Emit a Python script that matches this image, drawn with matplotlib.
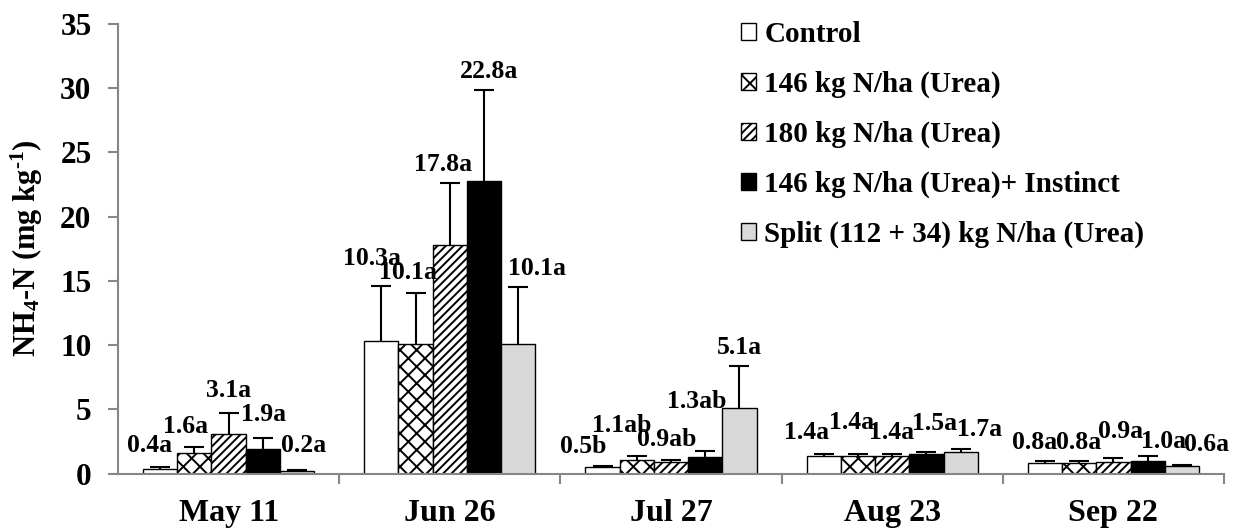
import numpy as np
import matplotlib
matplotlib.use('Agg')
import matplotlib.pyplot as plt

plt.rcParams['font.family'] = 'Liberation Serif'
plt.rcParams['font.weight'] = 'bold'
plt.rcParams['mathtext.fontset'] = 'custom'
plt.rcParams['mathtext.rm'] = 'Liberation Serif:bold'
plt.rcParams['mathtext.bf'] = 'Liberation Serif:bold'
plt.rcParams['mathtext.it'] = 'Liberation Serif:bold'
plt.rcParams['hatch.linewidth'] = 1.4

dates = ['May 11', 'Jun 26', 'Jul 27', 'Aug 23', 'Sep 22']
treatments = ['Control', '146 kg N/ha (Urea)', '180 kg N/ha (Urea)',
              '146 kg N/ha (Urea)+ Instinct', 'Split (112 + 34) kg N/ha (Urea)']

control = [0.4, 10.3, 0.5, 1.4, 0.8]
urea146 = [1.6, 10.1, 1.1, 1.4, 0.8]
urea180 = [3.1, 17.8, 0.9, 1.4, 0.9]
instinct = [1.9, 22.8, 1.3, 1.5, 1.0]
split = [0.2, 10.1, 5.1, 1.7, 0.6]

control_err = [0.15, 4.3, 0.1, 0.12, 0.15]
urea146_err = [0.45, 4.0, 0.25, 0.1, 0.15]
urea180_err = [1.6, 4.8, 0.15, 0.1, 0.3]
instinct_err = [0.9, 7.1, 0.5, 0.15, 0.4]
split_err = [0.05, 4.4, 3.3, 0.25, 0.05]

control_let = ['a', 'a', 'b', 'a', 'a']
urea146_let = ['a', 'a', 'ab', 'a', 'a']
urea180_let = ['a', 'a', 'ab', 'a', 'a']
instinct_let = ['a', 'a', 'ab', 'a', 'a']
split_let = ['a', 'a', 'a', 'a', 'a']

series = [control, urea146, urea180, instinct, split]
errors = [control_err, urea146_err, urea180_err, instinct_err, split_err]
letters = [control_let, urea146_let, urea180_let, instinct_let, split_let]

# styling
colors = ['white', 'white', 'white', 'black', '#d9d9d9']
hatches = [None, 'xx', '////', None, None]

# hand placed label offsets (pixels) relative to top of error bar
label_dx = [[-11, -9, -19, -17, -10],
            [-9, -8, -15, -6, -1],
            [0, -7, -4, -1, 7],
            [1, 5, -9, 8, 16],
            [7, 19, 0, 19, 25]]
label_dy = [[21, 28, 19, 22, 19],
            [21, 20, 31, 32, 19],
            [23, 19, 21, 22, 27],
            [23, 18, 49, 29, 14],
            [25, 19, 18, 19, 21]]

W, H = 1236, 529
fig = plt.figure(figsize=(W / 100, H / 100), dpi=100)
ax = fig.add_axes([118 / W, 55.3 / H, (1224 - 118) / W, (473.7 - 24) / H])

n = len(dates)
gap = 25 / 221
bw = 34.2 / 221
idx = np.arange(n)

for j in range(5):
    xs = idx + gap + bw * (j + 0.5)
    ax.bar(xs, series[j], bw, color=colors[j], edgecolor='black', linewidth=1,
           hatch=hatches[j], label=treatments[j], zorder=2)
    eb = ax.errorbar(xs, series[j], yerr=[np.zeros(n), errors[j]], fmt='none',
                     ecolor='black', elinewidth=1.5, capsize=7, capthick=1.5, zorder=3)
    eb[1][0].set_visible(False)
    for i in range(n):
        ax.annotate('{}{}'.format(series[j][i], letters[j][i]),
                    xy=(xs[i], series[j][i] + errors[j][i]),
                    xytext=(label_dx[j][i] * 0.72, label_dy[j][i] * 0.72),
                    textcoords='offset points', ha='center', va='center',
                    fontsize=18.5, fontweight='bold', zorder=4)

ax.set_xlim(0, n)
ax.set_ylim(0, 35)
ax.set_yticks(range(0, 36, 5))
ax.set_xticks(np.arange(1, n + 1))
ax.set_xticklabels([])
ax.set_xticks(idx + 0.5, minor=True)
ax.set_xticklabels(dates, minor=True)
ax.tick_params(axis='x', which='minor', length=0, pad=18, labelsize=23)
ax.tick_params(axis='x', which='major', length=7, width=1.5, color='#868686', direction='out')
ax.tick_params(axis='y', length=7, width=1.5, color='#868686', direction='out', pad=12, labelsize=22.5)
for lab in ax.get_xticklabels(minor=True) + ax.get_yticklabels():
    lab.set_fontweight('bold')

for s in ['top', 'right']:
    ax.spines[s].set_visible(False)
for s in ['left', 'bottom']:
    ax.spines[s].set_color('#868686')
    ax.spines[s].set_linewidth(1.5)

ax.set_ylabel(r'NH$_4$-N (mg kg$^{\text{-1}}$)', fontsize=22, fontweight='bold')
ax.yaxis.set_label_coords(45 / W, (H - 248) / H, transform=fig.transFigure)

leg = fig.legend(loc='upper left', bbox_to_anchor=(741 / W, 1 - 21 / H), frameon=False,
                 prop={'family': 'Liberation Serif', 'weight': 'bold', 'size': 21},
                 handlelength=0.5, handleheight=0.5, handletextpad=0.3,
                 labelspacing=0.78, borderpad=0, borderaxespad=0)

fig.savefig('out.png', dpi=100)
